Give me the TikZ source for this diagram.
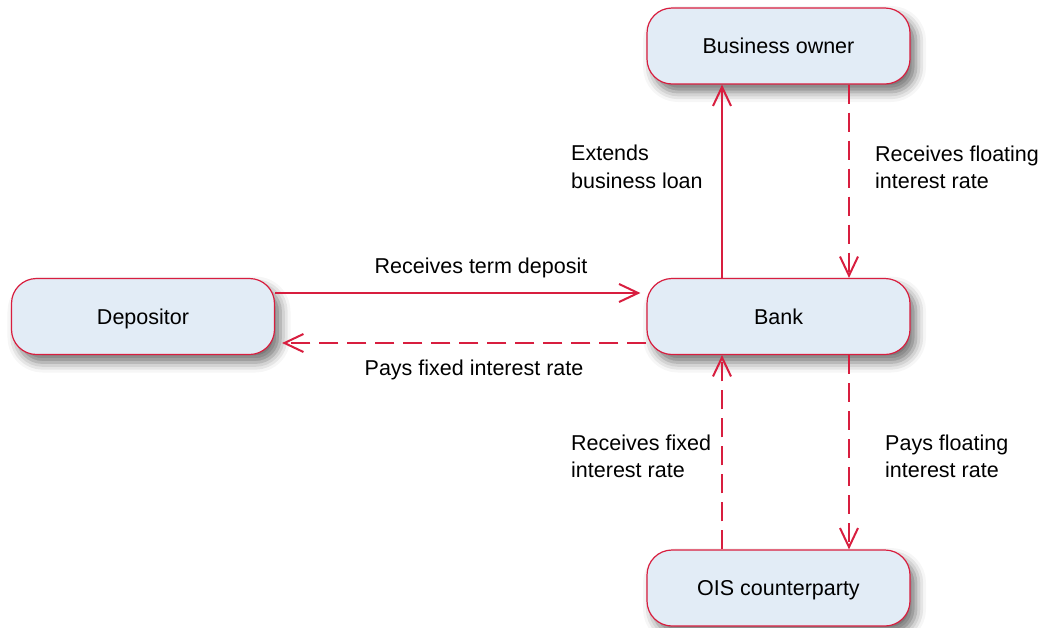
\documentclass[tikz,border=0pt]{standalone}
\usepackage{fontspec}
\setmainfont{Liberation Sans}
\usetikzlibrary{arrows.meta,shadows.blur}
\definecolor{linkred}{HTML}{D81E3F}
\definecolor{boxfill}{HTML}{E2ECF6}
\tikzset{
  box/.style={draw=linkred, line width=1.2pt, fill=boxfill, rounded corners=25pt,
    minimum width=263pt, minimum height=76pt, inner sep=0pt,
    text height=15.4pt, text depth=0pt,
    blur shadow={shadow xshift=6pt, shadow yshift=-8pt, shadow blur radius=10pt, shadow opacity=55}},
  link/.style={draw=linkred, line width=2.2pt,
    -{Straight Barb[length=19pt,width=18pt,line width=2pt]}},
  dlink/.style={link, dash pattern=on 19pt off 9pt},
  lbl/.style={inner sep=0pt, align=left}
}
\begin{document}
\begin{tikzpicture}[x=1pt,y=-1pt, font=\fontsize{21.5}{27.5}\selectfont]
\useasboundingbox (0,0) rectangle (1041,627);
\node[box] (biz) at (778.5,46) {Business owner};
\node[box] (dep) at (143,316.5) {Depositor};
\node[box] (bank) at (778.5,316.5) {Bank};
\node[box] (ois) at (778.5,588) {OIS counterparty};

\draw[link] ([yshift=23.5pt]dep.east) -- ([yshift=23.5pt,xshift=-6pt]bank.west);
\draw[dlink] ([yshift=-26.5pt]bank.west) -- ([yshift=-26.5pt,xshift=7pt]dep.east);
\draw[link] ([xshift=-56.5pt]bank.north) -- ([xshift=-56.5pt]biz.south);
\draw[dlink] ([xshift=70.5pt]biz.south) -- ([xshift=70.5pt]bank.north);
\draw[dlink] ([xshift=-56.5pt]ois.north) -- ([xshift=-56.5pt]bank.south);
\draw[dlink] ([xshift=70.5pt]bank.south) -- ([xshift=70.5pt]ois.north);

\node[lbl, anchor=west] (l1) at (571,167) {Extends\\business loan};
\node[lbl, anchor=west] (l2) at (875,167.5) {Receives floating\\interest rate};
\node[lbl] (l3) at (481,268) {Receives term deposit};
\node[lbl] (l4) at (474,370) {Pays fixed interest rate};
\node[lbl, anchor=west] (l5) at (571,456.5) {Receives fixed\\interest rate};
\node[lbl, anchor=west] (l6) at (885,456.5) {Pays floating\\interest rate};
\end{tikzpicture}
\end{document}
